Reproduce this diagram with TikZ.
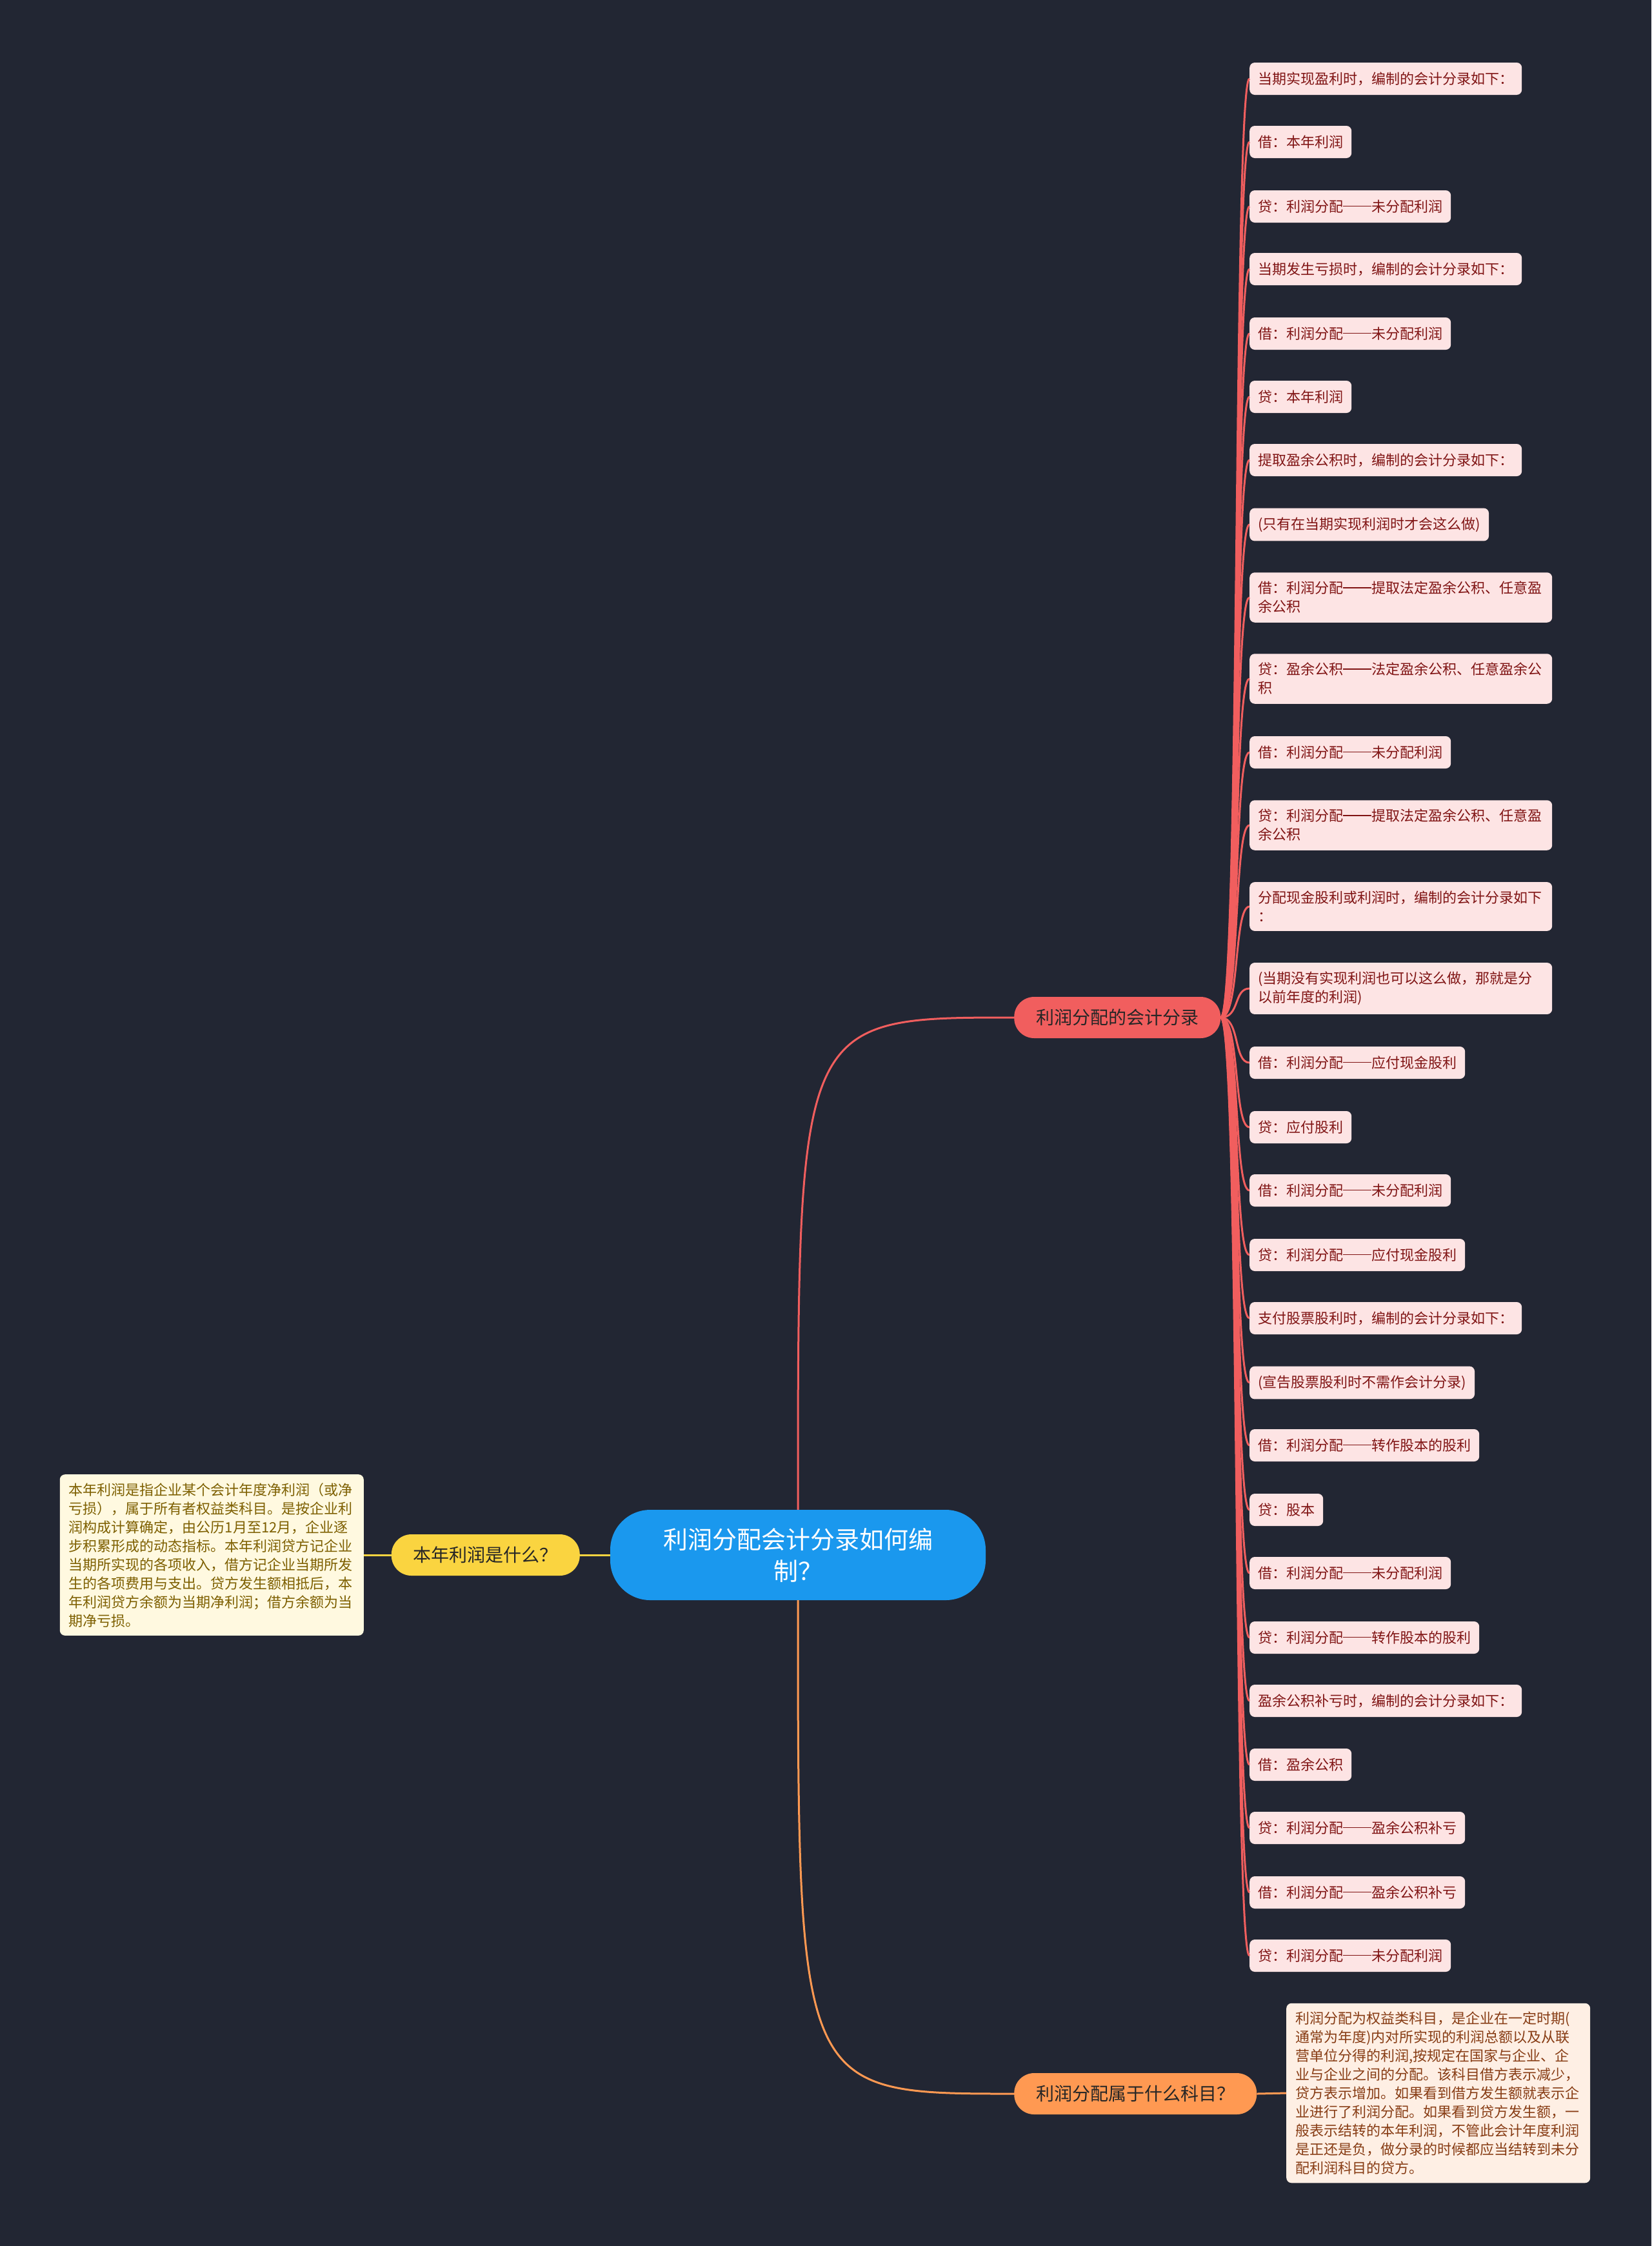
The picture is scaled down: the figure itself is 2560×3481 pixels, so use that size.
\documentclass[tikz,border=0pt]{standalone}
\usepackage{fontspec}
\usepackage{xcolor}
\setmainfont{Noto Sans CJK SC}
\newcommand{\lrdash}{\rule[0.38em]{2em}{0.06em}}
\definecolor{bgdark}{RGB}{34,38,51}
\definecolor{rootblue}{RGB}{26,152,238}
\definecolor{branchred}{RGB}{241,94,94}
\definecolor{leafpink}{RGB}{253,228,228}
\definecolor{leafink}{RGB}{128,20,20}
\definecolor{branchyellow}{RGB}{250,212,64}
\definecolor{noteyellow}{RGB}{255,249,224}
\definecolor{noteolive}{RGB}{125,95,0}
\definecolor{branchorange}{RGB}{255,153,82}
\definecolor{notepeach}{RGB}{254,239,228}
\definecolor{notebrown}{RGB}{135,60,20}
\tikzset{
  rootnode/.style={fill=rootblue,text=white,rounded corners=62pt,minimum width=582pt,minimum height=140pt,align=center,font=\fontsize{38}{49}\selectfont},
  topicnode/.style={rounded corners=31pt,minimum height=64pt,inner xsep=34pt,text=black!85,font=\fontsize{28}{34}\selectfont},
  leafnode/.style={fill=leafpink,text=leafink,rounded corners=8pt,anchor=west,align=left,inner xsep=13pt,inner ysep=14pt,minimum height=50pt,font=\fontsize{22}{29}\selectfont},
  wideleaf/.style={leafnode,text width=443pt},
  notenode/.style={rounded corners=8pt,align=left,text width=443pt,inner xsep=14pt,inner ysep=13pt,font=\fontsize{22}{29}\selectfont},
  redline/.style={draw=branchred,line width=3pt},
  yellowline/.style={draw=branchyellow,line width=3pt},
  orangeline/.style={draw=branchorange,line width=3pt}
}
\begin{document}
\begin{tikzpicture}[x=1pt,y=-1pt]
\useasboundingbox (0,0) rectangle (2560,3481);
\fill[bgdark] (0,0) rectangle (2560,3481);
\node[rootnode] (main) at (1237,2410) {利润分配会计分录如何编\\制？};
\node[topicnode,fill=branchred,anchor=west] (entries) at (1572,1577) {利润分配的会计分录};
\node[topicnode,fill=branchyellow,anchor=east] (bnlr) at (899,2410) {本年利润是什么？};
\node[topicnode,fill=branchorange,anchor=west] (kemu) at (1572,3245) {利润分配属于什么科目？};
\node[notenode,fill=noteyellow,text=noteolive,anchor=east] (bnlrnote) at (564,2410) {本年利润是指企业某个会计年度净利润（或净\\亏损），属于所有者权益类科目。是按企业利\\润构成计算确定，由公历1月至12月，企业逐\\步积累形成的动态指标。本年利润贷方记企业\\当期所实现的各项收入，借方记企业当期所发\\生的各项费用与支出。贷方发生额相抵后，本\\年利润贷方余额为当期净利润；借方余额为当\\期净亏损。};
\node[notenode,fill=notepeach,text=notebrown,anchor=west] (kemunote) at (1994,3244) {利润分配为权益类科目，是企业在一定时期(\\通常为年度)内对所实现的利润总额以及从联\\营单位分得的利润,按规定在国家与企业、企\\业与企业之间的分配。该科目借方表示减少，\\贷方表示增加。如果看到借方发生额就表示企\\业进行了利润分配。如果看到贷方发生额，一\\般表示结转的本年利润，不管此会计年度利润\\是正还是负，做分录的时候都应当结转到未分\\配利润科目的贷方。};
\node[leafnode] (e1) at (1937,122) {当期实现盈利时，编制的会计分录如下：};
\node[leafnode] (e2) at (1937,220) {借：本年利润};
\node[leafnode] (e3) at (1937,320) {贷：利润分配\lrdash 未分配利润};
\node[leafnode] (e4) at (1937,417) {当期发生亏损时，编制的会计分录如下：};
\node[leafnode] (e5) at (1937,517) {借：利润分配\lrdash 未分配利润};
\node[leafnode] (e6) at (1937,615) {贷：本年利润};
\node[leafnode] (e7) at (1937,713) {提取盈余公积时，编制的会计分录如下：};
\node[leafnode] (e8) at (1937,813) {(只有在当期实现利润时才会这么做)};
\node[wideleaf] (e9) at (1937,926) {借：利润分配\lrdash 提取法定盈余公积、任意盈\\余公积};
\node[wideleaf] (e10) at (1937,1052) {贷：盈余公积\lrdash 法定盈余公积、任意盈余公\\积};
\node[leafnode] (e11) at (1937,1166) {借：利润分配\lrdash 未分配利润};
\node[wideleaf] (e12) at (1937,1279) {贷：利润分配\lrdash 提取法定盈余公积、任意盈\\余公积};
\node[wideleaf] (e13) at (1937,1405) {分配现金股利或利润时，编制的会计分录如下\\：};
\node[wideleaf] (e14) at (1937,1532) {(当期没有实现利润也可以这么做，那就是分\\以前年度的利润)};
\node[leafnode] (e15) at (1937,1647) {借：利润分配\lrdash 应付现金股利};
\node[leafnode] (e16) at (1937,1747) {贷：应付股利};
\node[leafnode] (e17) at (1937,1845) {借：利润分配\lrdash 未分配利润};
\node[leafnode] (e18) at (1937,1945) {贷：利润分配\lrdash 应付现金股利};
\node[leafnode] (e19) at (1937,2043) {支付股票股利时，编制的会计分录如下：};
\node[leafnode] (e20) at (1937,2143) {(宣告股票股利时不需作会计分录)};
\node[leafnode] (e21) at (1937,2240) {借：利润分配\lrdash 转作股本的股利};
\node[leafnode] (e22) at (1937,2340) {贷：股本};
\node[leafnode] (e23) at (1937,2438) {借：利润分配\lrdash 未分配利润};
\node[leafnode] (e24) at (1937,2538) {贷：利润分配\lrdash 转作股本的股利};
\node[leafnode] (e25) at (1937,2636) {盈余公积补亏时，编制的会计分录如下：};
\node[leafnode] (e26) at (1937,2735) {借：盈余公积};
\node[leafnode] (e27) at (1937,2833) {贷：利润分配\lrdash 盈余公积补亏};
\node[leafnode] (e28) at (1937,2933) {借：利润分配\lrdash 盈余公积补亏};
\node[leafnode] (e29) at (1937,3031) {贷：利润分配\lrdash 未分配利润};
\draw[redline] (main.north) .. controls (main.north |- entries.west) .. (entries.west);
\draw[orangeline] (main.south) .. controls (main.south |- kemu.west) .. (kemu.west);
\draw[yellowline] (main.west) -- (bnlr.east);
\draw[yellowline] (bnlr.west) -- (bnlrnote.east);
\draw[orangeline] (kemu.east) -- (kemunote.west);
\draw[redline] (entries.east) .. controls +(30,0) and +(-25,0) .. (e1.west);
\draw[redline] (entries.east) .. controls +(30,0) and +(-25,0) .. (e2.west);
\draw[redline] (entries.east) .. controls +(30,0) and +(-25,0) .. (e3.west);
\draw[redline] (entries.east) .. controls +(30,0) and +(-25,0) .. (e4.west);
\draw[redline] (entries.east) .. controls +(30,0) and +(-25,0) .. (e5.west);
\draw[redline] (entries.east) .. controls +(30,0) and +(-25,0) .. (e6.west);
\draw[redline] (entries.east) .. controls +(30,0) and +(-25,0) .. (e7.west);
\draw[redline] (entries.east) .. controls +(30,0) and +(-25,0) .. (e8.west);
\draw[redline] (entries.east) .. controls +(30,0) and +(-25,0) .. (e9.west);
\draw[redline] (entries.east) .. controls +(30,0) and +(-25,0) .. (e10.west);
\draw[redline] (entries.east) .. controls +(30,0) and +(-25,0) .. (e11.west);
\draw[redline] (entries.east) .. controls +(30,0) and +(-25,0) .. (e12.west);
\draw[redline] (entries.east) .. controls +(30,0) and +(-25,0) .. (e13.west);
\draw[redline] (entries.east) .. controls +(30,0) and +(-25,0) .. (e14.west);
\draw[redline] (entries.east) .. controls +(30,0) and +(-25,0) .. (e15.west);
\draw[redline] (entries.east) .. controls +(30,0) and +(-25,0) .. (e16.west);
\draw[redline] (entries.east) .. controls +(30,0) and +(-25,0) .. (e17.west);
\draw[redline] (entries.east) .. controls +(30,0) and +(-25,0) .. (e18.west);
\draw[redline] (entries.east) .. controls +(30,0) and +(-25,0) .. (e19.west);
\draw[redline] (entries.east) .. controls +(30,0) and +(-25,0) .. (e20.west);
\draw[redline] (entries.east) .. controls +(30,0) and +(-25,0) .. (e21.west);
\draw[redline] (entries.east) .. controls +(30,0) and +(-25,0) .. (e22.west);
\draw[redline] (entries.east) .. controls +(30,0) and +(-25,0) .. (e23.west);
\draw[redline] (entries.east) .. controls +(30,0) and +(-25,0) .. (e24.west);
\draw[redline] (entries.east) .. controls +(30,0) and +(-25,0) .. (e25.west);
\draw[redline] (entries.east) .. controls +(30,0) and +(-25,0) .. (e26.west);
\draw[redline] (entries.east) .. controls +(30,0) and +(-25,0) .. (e27.west);
\draw[redline] (entries.east) .. controls +(30,0) and +(-25,0) .. (e28.west);
\draw[redline] (entries.east) .. controls +(30,0) and +(-25,0) .. (e29.west);
\end{tikzpicture}
\end{document}
